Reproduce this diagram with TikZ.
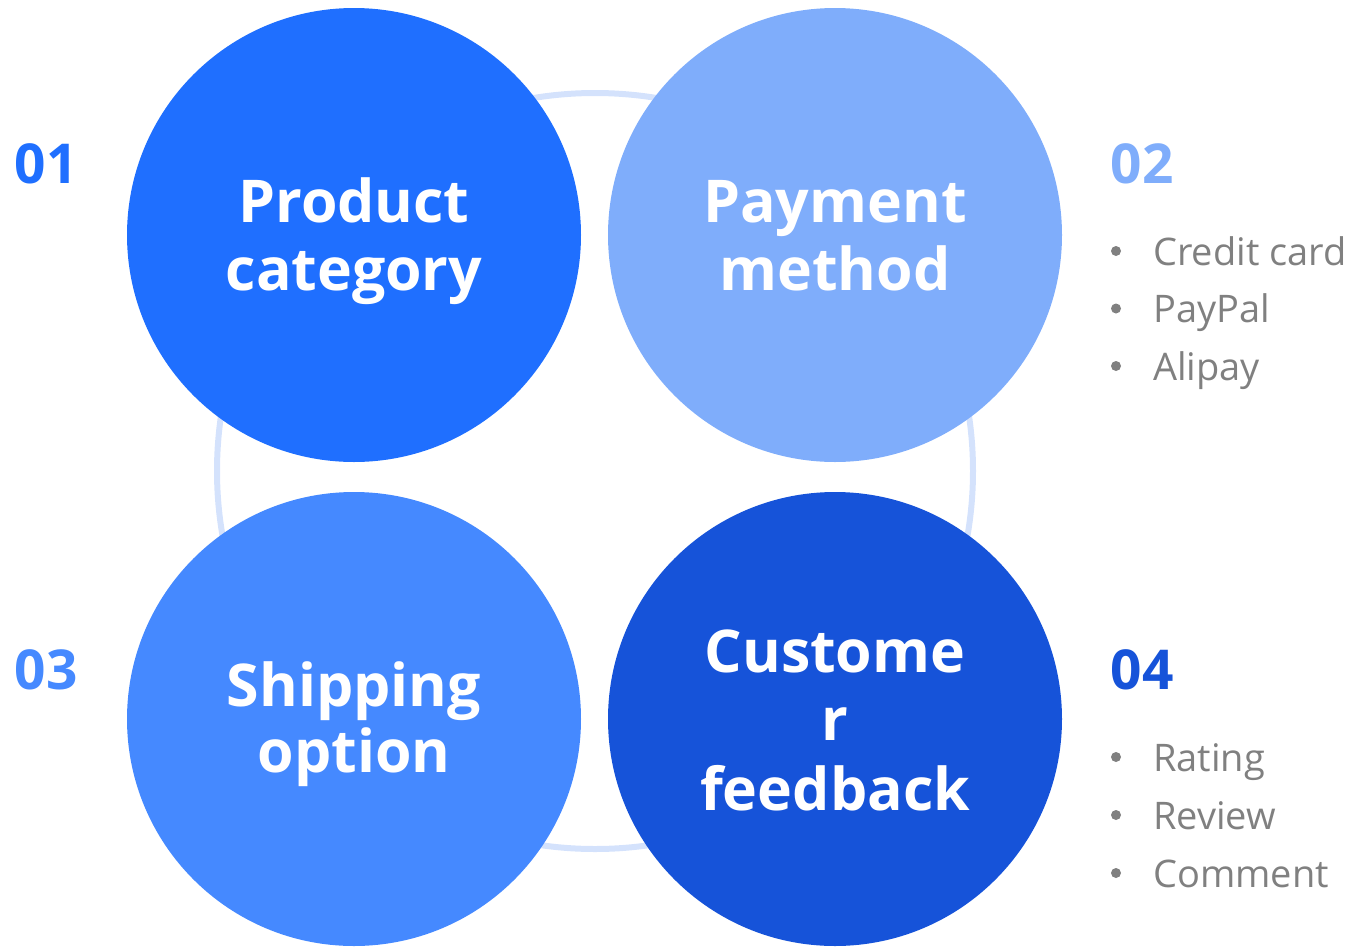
\documentclass[tikz,border=0pt]{standalone}
\usepackage{fontspec}
\setmainfont{Open Sans}
\definecolor{cA}{HTML}{1F6FFF}
\definecolor{cB}{HTML}{7FADFB}
\definecolor{cC}{HTML}{4589FF}
\definecolor{cD}{HTML}{1653D9}
\definecolor{ringc}{HTML}{D4E2FC}
\definecolor{gtext}{HTML}{808080}
\tikzset{
  disc/.style={circle, minimum size=454pt, inner sep=0pt},
  title/.style={anchor=base, inner sep=0pt, text=white,
    font=\bfseries\fontsize{59}{68}\selectfont},
  num/.style={anchor=base, inner sep=0pt, font=\bfseries\fontsize{55}{60}\selectfont},
  dot/.style={circle, fill=gtext, minimum size=10pt, inner sep=0pt},
  item/.style={anchor=base west, inner sep=0pt, text=gtext, font=\fontsize{38}{46}\selectfont},
}
\begin{document}
\begin{tikzpicture}[x=1pt,y=-1pt]
\useasboundingbox (0,0) rectangle (1353,946);
% connecting ring behind the four discs
\draw[ringc, line width=6pt] (595,471) circle (378);
% discs
\node[disc, fill=cA] (d1) at (354,235) {};
\node[disc, fill=cB] (d2) at (835,235) {};
\node[disc, fill=cC] (d3) at (354,719) {};
\node[disc, fill=cD] (d4) at (835,719) {};
% disc titles, one node per line, placed on their baselines
\node[title] (d1a) at (354,222) {Product};
\node[title] (d1b) at (354,290) {category};
\node[title] (d2a) at (835,222) {Payment};
\node[title] (d2b) at (835,290) {method};
\node[title] (d3a) at (354,706) {Shipping};
\node[title] (d3b) at (354,772) {option};
\node[title] (d4a) at (835,672) {Custome};
\node[title] (d4b) at (835,740) {r};
\node[title] (d4c) at (835,810) {feedback};
% step numbers
\node[num, text=cA] (n1) at (46,183) {01};
\node[num, text=cB] (n2) at (1142,183) {02};
\node[num, text=cC] (n3) at (46,689) {03};
\node[num, text=cD] (n4) at (1142,689) {04};
% payment options
\node[dot] (b21) at (1116,251) {};
\node[item] (t21) at (1153,265) {Credit card};
\node[dot] (b22) at (1116,308.5) {};
\node[item] (t22) at (1153,322.5) {PayPal};
\node[dot] (b23) at (1116,366) {};
\node[item] (t23) at (1153,380) {Alipay};
% feedback options
\node[dot] (b41) at (1116,757) {};
\node[item] (t41) at (1153,771) {Rating};
\node[dot] (b42) at (1116,815) {};
\node[item] (t42) at (1153,829) {Review};
\node[dot] (b43) at (1116,873) {};
\node[item] (t43) at (1153,887) {Comment};
\end{tikzpicture}
\end{document}
